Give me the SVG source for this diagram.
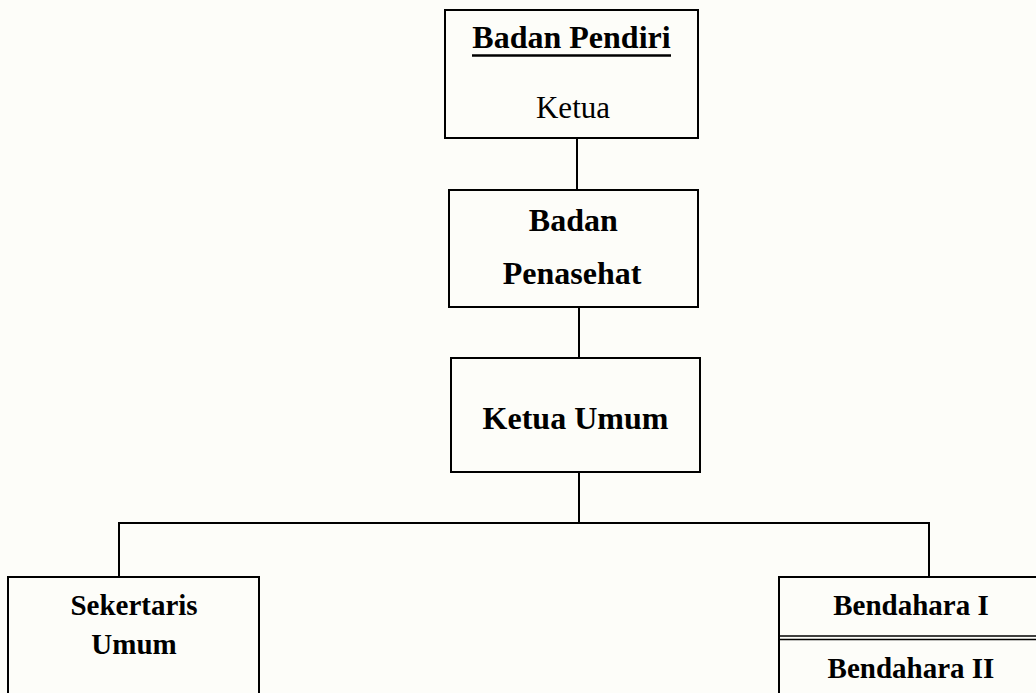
<svg xmlns="http://www.w3.org/2000/svg" width="1036" height="693" viewBox="0 0 1036 693">
<style>
.box{fill:none;stroke:#000;stroke-width:2}
.con{stroke:#000;stroke-width:2;fill:none}
text{font-family:"Liberation Serif",serif;font-size:32px;fill:#000;text-anchor:middle}
.b{font-weight:bold}
.s{font-size:29px}
</style>
<rect x="0" y="0" width="1036" height="693" fill="#fdfdf9"/>
<g id="connectors">
<line class="con" x1="577" y1="138" x2="577" y2="190"/>
<line class="con" x1="579" y1="307" x2="579" y2="358"/>
<line class="con" x1="579" y1="472" x2="579" y2="523"/>
<polyline class="con" points="119,577 119,523 929,523 929,577"/>
</g>
<g id="badan-pendiri">
<rect class="box" x="445" y="10" width="253" height="128"/>
<text class="b" x="571.5" y="48">Badan Pendiri</text>
<line x1="472" y1="55.5" x2="671" y2="55.5" stroke="#000" stroke-width="2.5"/>
<text x="573" y="118" style="font-size:31px">Ketua</text>
</g>
<g id="badan-penasehat">
<rect class="box" x="449" y="190" width="249" height="117"/>
<text class="b" x="573.3" y="231">Badan</text>
<text class="b" x="572" y="284">Penasehat</text>
</g>
<g id="ketua-umum">
<rect class="box" x="451" y="358" width="249" height="114"/>
<text class="b" x="575.5" y="429">Ketua Umum</text>
</g>
<g id="sekertaris-umum">
<rect class="box" x="8" y="577" width="251" height="130"/>
<text class="b s" x="134" y="615">Sekertaris</text>
<text class="b s" x="134" y="654">Umum</text>
</g>
<g id="bendahara">
<rect class="box" x="779" y="577" width="270" height="130"/>
<line x1="779" y1="636" x2="1040" y2="636" stroke="#000" stroke-width="1.5"/>
<line x1="779" y1="639.5" x2="1040" y2="639.5" stroke="#000" stroke-width="1.5"/>
<text class="b s" x="911" y="615">Bendahara I</text>
<text class="b s" x="911" y="678">Bendahara II</text>
</g>
</svg>
